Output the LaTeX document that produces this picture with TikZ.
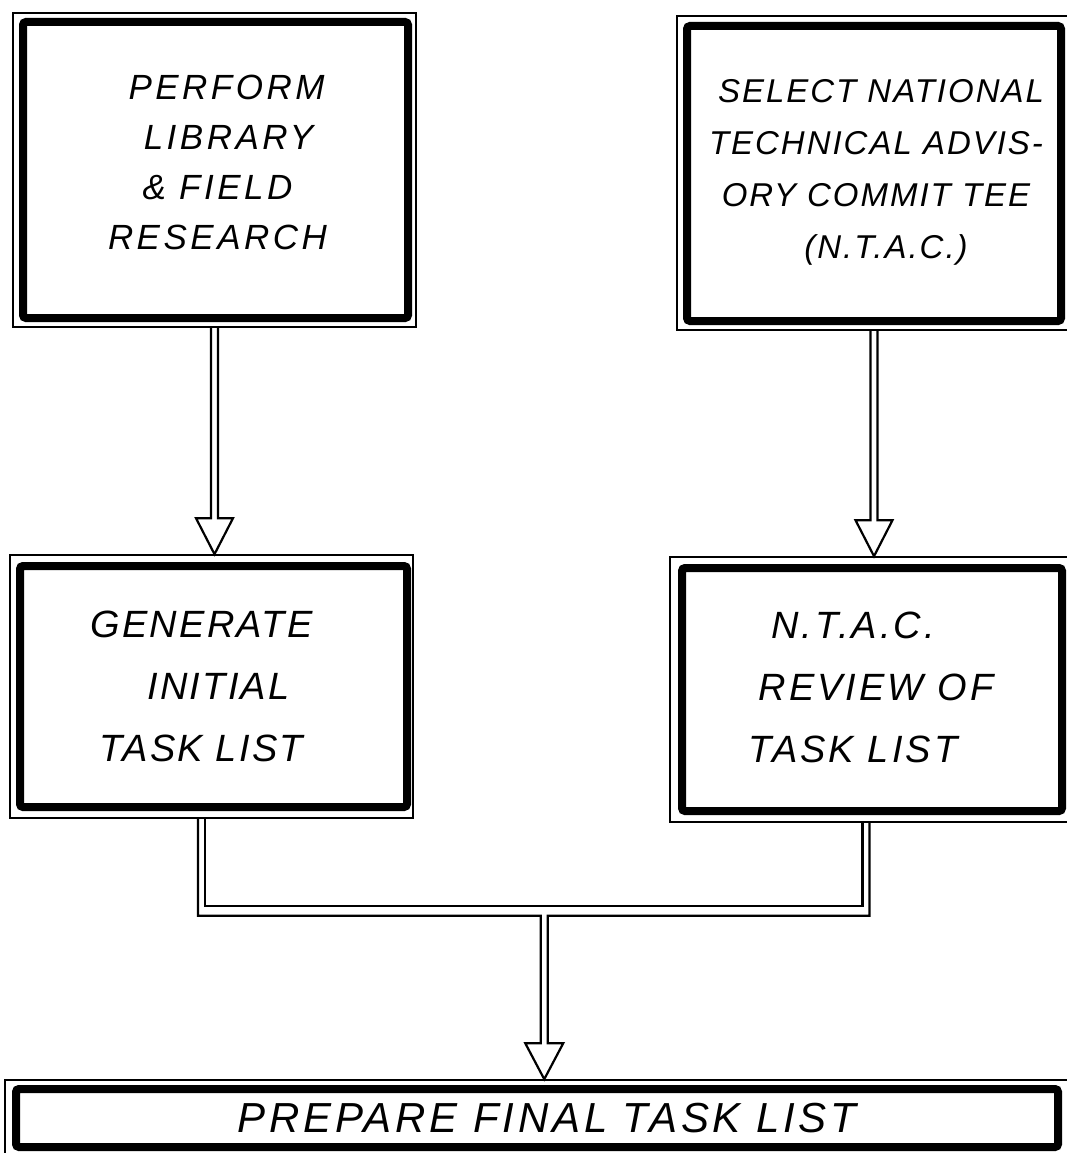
\documentclass[tikz,border=0pt]{standalone}
\usepackage{fontspec}
\setmainfont{Liberation Sans}
\newfontfamily\handfont{Liberation Sans Italic}[LetterSpace=6]
\usetikzlibrary{calc}

% hollow block arrow: shaft from #1 straight down to the tip #2
\newcommand\hollowarrow[2]{%
  \draw[arrowline] ($(#1)+(-3.5,0)$) -- ($(#2)+(-3.5,-36)$) -- ($(#2)+(-18.5,-36)$)
    -- (#2) -- ($(#2)+(18.5,-36)$) -- ($(#2)+(3.5,-36)$) -- ($(#1)+(3.5,0)$);}
% shift a centred line sideways by #1
\newcommand\nudge[2]{\ifdim#1>0pt\hspace*{2\dimexpr#1\relax}#2\else#2\hspace*{-2\dimexpr#1\relax}\fi}

\tikzset{
  frame/.style={draw, line width=1.6pt, inner sep=0pt},
  box/.style={draw, line width=8pt, rounded corners=3pt, inner sep=0pt},
  label text/.style={inner sep=0pt, align=center},
  arrowline/.style={line width=2.2pt, line join=miter},
}

\begin{document}
\begin{tikzpicture}[x=1pt, y=-1pt]
\useasboundingbox (0,0) rectangle (1067,1153);

% outer thin frames
\node[frame, minimum width=403pt, minimum height=314pt] (f1) at (214.5,170) {};
\node[frame, minimum width=394pt, minimum height=314pt] (f2) at (874,173) {};
\node[frame, minimum width=403pt, minimum height=263pt] (f3) at (211.5,686.5) {};
\node[frame, minimum width=402pt, minimum height=265pt] (f4) at (871,689.5) {};
\node[frame, minimum width=1063pt, minimum height=76pt] (f5) at (536.5,1118) {};

% heavy inner boxes
\node[box, minimum width=385pt, minimum height=296pt] (b1) at (215.5,170) {};
\node[box, minimum width=374pt, minimum height=295pt] (b2) at (874,173.5) {};
\node[box, minimum width=387pt, minimum height=241pt] (b3) at (213.5,686.5) {};
\node[box, minimum width=380pt, minimum height=243pt] (b4) at (872,689.5) {};
\node[box, minimum width=1042pt, minimum height=58pt] (b5) at (537,1118) {};

% lettering
\node[label text, font=\handfont\addfontfeature{LetterSpace=10}\fontsize{35}{50}\selectfont]
  (x1) at ($(b1)+(2,-8)$)
  {\nudge{9pt}{PERFORM}\\\nudge{11pt}{LIBRARY}\\\& FIELD\\RESEARCH};
\node[label text, font=\handfont\fontsize{33}{52}\selectfont]
  (x2) at ($(b2)+(2,-1)$)
  {\nudge{5pt}{SELECT NATIONAL}\\TECHNICAL ADVIS-\\\nudge{-3pt}{ORY COMMIT TEE}\\\nudge{10pt}{(N.T.A.C.)}};
\node[label text, font=\handfont\fontsize{38}{62}\selectfont]
  (x3) at (b3)
  {\nudge{-12pt}{GENERATE}\\\nudge{5pt}{INITIAL}\\\nudge{-12pt}{TASK LIST}};
\node[label text, font=\handfont\addfontfeature{LetterSpace=8}\fontsize{38}{62}\selectfont]
  (x4) at ($(b4)+(-5,-2)$)
  {\nudge{-14pt}{N.T.A.C.}\\\nudge{9pt}{REVIEW OF}\\\nudge{-14pt}{TASK LIST}};
\node[label text, font=\handfont\addfontfeature{LetterSpace=9}\fontsize{42}{50}\selectfont]
  (x5) at ($(b5)+(10,0)$) {PREPARE FINAL TASK LIST};

% arrows from the top row to the middle row
\coordinate (t1) at (f1.south |- f3.north);
\hollowarrow{f1.south}{t1}
\coordinate (t2) at (f2.south |- f4.north);
\hollowarrow{f2.south}{t2}

% merging connector into the final box
\coordinate (lg) at ($(f3.south)+(-10,0)$);
\coordinate (rg) at ($(f4.south)+(-5,0)$);
\coordinate (jn) at ($(f3.south)!0.5!(f4.south)+(3,90)$);
\coordinate (t5) at (jn |- f5.north);
\draw[arrowline] ($(lg)+(3.5,0)$) |- ($(jn)+(0,-5)$) -| ($(rg)+(-3.5,0)$);
\draw[arrowline] ($(lg)+(-3.5,0)$) |- ($(jn)+(-3.5,5)$) -- ($(t5)+(-3.5,-36)$)
  -- ($(t5)+(-19,-36)$) -- (t5) -- ($(t5)+(19,-36)$) -- ($(t5)+(3.5,-36)$)
  -- ($(jn)+(3.5,5)$) -| ($(rg)+(3.5,0)$);
\end{tikzpicture}
\end{document}
